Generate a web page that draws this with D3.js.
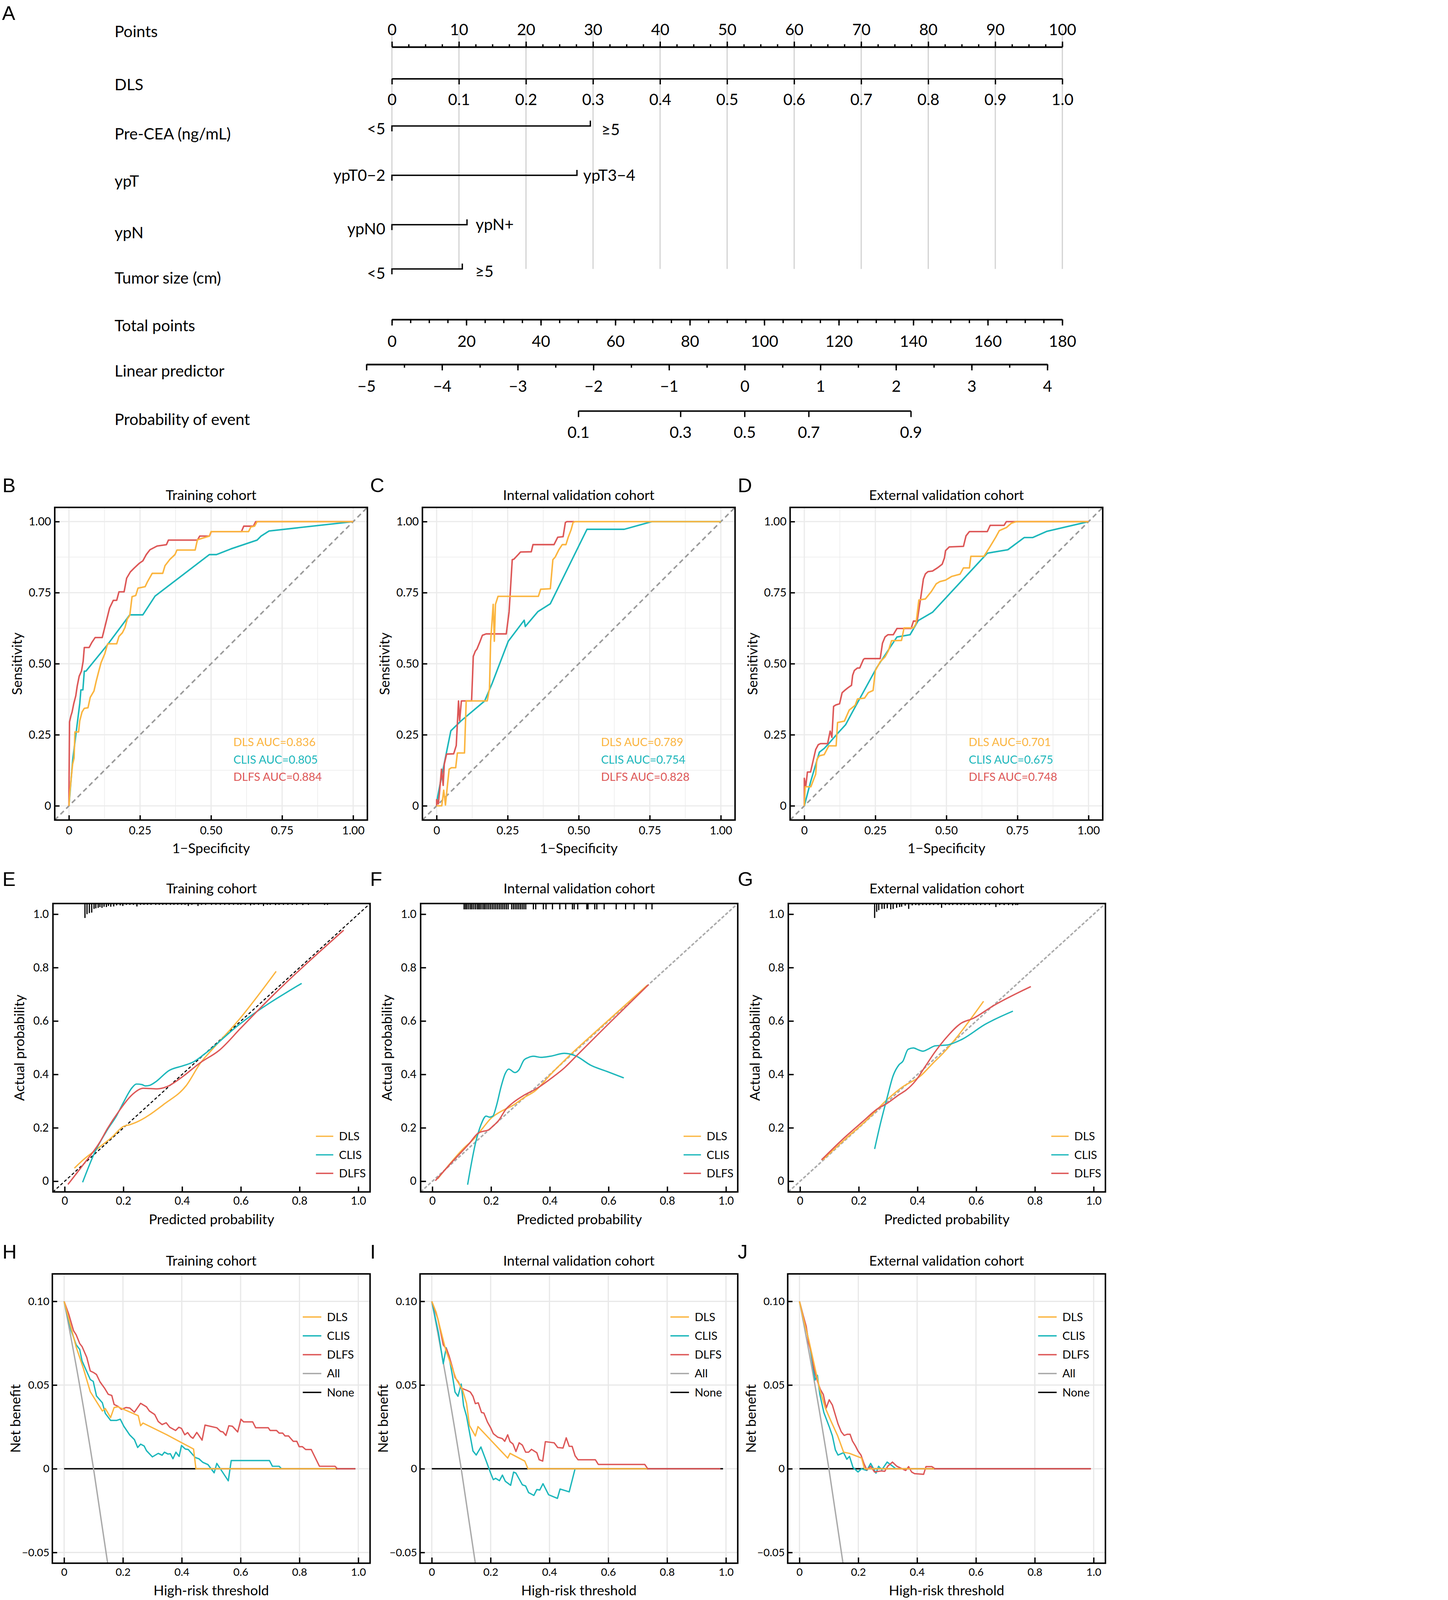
<!DOCTYPE html>
<html>
<head>
<meta charset="utf-8">
<script src="https://cdn.jsdelivr.net/npm/d3@7"></script>
<style>
  html, body { margin: 0; padding: 0; overflow: hidden; background: #fff; }
  #fig { display: block; position: absolute; left: 0; top: 0; width: 100vw; height: 100vh; }
  text { font-family: Lato, "Open Sans", sans-serif; fill: #000; }
</style>
</head>
<body>
<svg id="fig"></svg>
<script>
// ============================================
// DATA
// ============================================

// --- Nomogram (panel A) ---
const nomoRows = ["Points", "DLS", "Pre-CEA (ng/mL)", "ypT", "ypN", "Tumor size (cm)", "Total points", "Linear predictor", "Probability of event"];
const pointsMajor = [0, 10, 20, 30, 40, 50, 60, 70, 80, 90, 100];
const pointsMinor = d3.range(0, 100.1, 2.5);
const dlsTicks = [0, 0.1, 0.2, 0.3, 0.4, 0.5, 0.6, 0.7, 0.8, 0.9, 1.0];
const catLevels = [["<5", "≥5"], ["ypT0−2", "ypT3−4"], ["ypN0", "ypN+"], ["<5", "≥5"]];
const catPoints = [29.6, 27.6, 11.2, 10.5];
const totalMajor = [0, 20, 40, 60, 80, 100, 120, 140, 160, 180];
const totalMinor = d3.range(0, 180.1, 5);
const lpMajor = [-5, -4, -3, -2, -1, 0, 1, 2, 3, 4];
const lpMinor = d3.range(-5, 4.01, 0.5);
const probTicks = [0.1, 0.3, 0.5, 0.7, 0.9];

// --- ROC curves [1-specificity, sensitivity] ---
const cohorts = ["Training cohort", "Internal validation cohort", "External validation cohort"];
const models = ["DLS", "CLIS", "DLFS"];
const rocAUC = [["0.836", "0.805", "0.884"], ["0.789", "0.754", "0.828"], ["0.701", "0.675", "0.748"]];

const rocB_DLS = [[0,0],[0.003,0.046],[0.008,0.099],[0.013,0.147],[0.018,0.168],[0.021,0.26],[0.034,0.26],[0.038,0.299],[0.046,0.33],[0.054,0.343],[0.067,0.345],[0.075,0.382],[0.088,0.404],[0.096,0.439],[0.105,0.474],[0.113,0.504],[0.126,0.535],[0.136,0.57],[0.168,0.57],[0.176,0.596],[0.188,0.609],[0.197,0.627],[0.205,0.657],[0.214,0.67],[0.222,0.736],[0.235,0.74],[0.243,0.766],[0.268,0.771],[0.276,0.788],[0.293,0.818],[0.33,0.818],[0.338,0.845],[0.355,0.867],[0.373,0.884],[0.38,0.9],[0.444,0.9],[0.452,0.936],[0.494,0.949],[0.5,0.965],[0.632,0.965],[0.64,0.981],[0.653,0.984],[0.662,1],[1,1]];
const rocB_CLIS = [[0,0],[0.013,0.16],[0.025,0.256],[0.038,0.36],[0.042,0.408],[0.049,0.408],[0.054,0.474],[0.06,0.474],[0.138,0.57],[0.214,0.672],[0.26,0.672],[0.303,0.738],[0.494,0.884],[0.519,0.884],[0.57,0.904],[0.662,0.935],[0.676,0.949],[0.704,0.967],[1,1]];
const rocB_DLFS = [[0,0],[0,0.046],[0.002,0.295],[0.007,0.317],[0.011,0.33],[0.017,0.36],[0.024,0.387],[0.029,0.421],[0.036,0.456],[0.044,0.474],[0.05,0.509],[0.054,0.557],[0.071,0.557],[0.08,0.574],[0.092,0.592],[0.117,0.592],[0.131,0.648],[0.143,0.696],[0.156,0.723],[0.168,0.723],[0.176,0.753],[0.194,0.753],[0.203,0.801],[0.216,0.823],[0.229,0.836],[0.247,0.853],[0.26,0.862],[0.272,0.884],[0.285,0.901],[0.31,0.914],[0.343,0.919],[0.35,0.935],[0.452,0.935],[0.46,0.949],[0.494,0.949],[0.501,0.965],[0.607,0.965],[0.615,0.984],[0.649,0.984],[0.657,1],[1,1]];

const rocC_DLS = [[0,0],[0.018,0],[0.025,0.055],[0.031,0.003],[0.038,0.072],[0.044,0.129],[0.052,0.134],[0.067,0.134],[0.073,0.186],[0.098,0.186],[0.104,0.369],[0.178,0.369],[0.186,0.413],[0.19,0.579],[0.199,0.709],[0.203,0.579],[0.207,0.709],[0.216,0.737],[0.358,0.737],[0.366,0.762],[0.4,0.764],[0.409,0.866],[0.417,0.875],[0.43,0.901],[0.442,0.919],[0.455,0.919],[0.463,0.945],[0.473,0.971],[0.48,0.997],[0.487,1],[1,1]];
const rocC_CLIS = [[0,0],[0.003,0.029],[0.014,0.086],[0.05,0.264],[0.086,0.299],[0.169,0.369],[0.195,0.43],[0.252,0.579],[0.308,0.653],[0.312,0.631],[0.356,0.683],[0.4,0.711],[0.529,0.973],[0.66,0.973],[0.757,1],[1,1]];
const rocC_DLFS = [[0,0],[0,0.022],[0.006,0.007],[0.01,0.046],[0.017,0.129],[0.023,0.072],[0.027,0.147],[0.035,0.182],[0.06,0.183],[0.069,0.212],[0.077,0.369],[0.081,0.299],[0.087,0.369],[0.123,0.369],[0.129,0.526],[0.136,0.544],[0.142,0.552],[0.153,0.579],[0.161,0.6],[0.174,0.605],[0.245,0.605],[0.255,0.683],[0.266,0.866],[0.272,0.868],[0.287,0.884],[0.295,0.893],[0.333,0.894],[0.339,0.919],[0.413,0.919],[0.426,0.945],[0.445,0.947],[0.453,0.997],[0.458,1],[0.484,1]];

const rocD_DLS = [[0,0],[0.003,0.067],[0.023,0.067],[0.04,0.111],[0.044,0.163],[0.053,0.176],[0.07,0.18],[0.086,0.211],[0.112,0.211],[0.117,0.293],[0.141,0.298],[0.158,0.337],[0.179,0.354],[0.187,0.376],[0.212,0.379],[0.225,0.398],[0.242,0.406],[0.25,0.476],[0.267,0.507],[0.284,0.524],[0.296,0.546],[0.307,0.581],[0.342,0.582],[0.351,0.626],[0.384,0.626],[0.393,0.641],[0.403,0.724],[0.426,0.728],[0.447,0.754],[0.464,0.781],[0.477,0.789],[0.497,0.794],[0.518,0.807],[0.548,0.815],[0.56,0.837],[0.581,0.837],[0.586,0.878],[0.632,0.878],[0.653,0.911],[0.674,0.946],[0.686,0.968],[0.711,0.979],[0.728,0.994],[0.745,1],[1,1]];
const rocD_CLIS = [[0,0],[0.022,0.084],[0.053,0.189],[0.07,0.202],[0.086,0.219],[0.12,0.258],[0.145,0.285],[0.166,0.324],[0.254,0.485],[0.326,0.594],[0.372,0.602],[0.401,0.652],[0.451,0.681],[0.644,0.889],[0.716,0.901],[0.774,0.944],[0.804,0.944],[0.854,0.966],[1,1]];
const rocD_DLFS = [[0,0],[0,0.097],[0.005,0.067],[0.011,0.119],[0.022,0.119],[0.032,0.163],[0.04,0.198],[0.049,0.215],[0.057,0.219],[0.082,0.219],[0.091,0.263],[0.097,0.241],[0.103,0.35],[0.111,0.355],[0.124,0.359],[0.133,0.398],[0.142,0.406],[0.153,0.415],[0.166,0.424],[0.17,0.459],[0.176,0.476],[0.187,0.485],[0.195,0.485],[0.208,0.515],[0.212,0.518],[0.267,0.518],[0.275,0.572],[0.284,0.594],[0.294,0.602],[0.313,0.602],[0.326,0.624],[0.376,0.624],[0.384,0.65],[0.397,0.65],[0.409,0.728],[0.419,0.798],[0.426,0.816],[0.435,0.824],[0.451,0.826],[0.468,0.837],[0.485,0.85],[0.493,0.872],[0.497,0.898],[0.51,0.911],[0.56,0.913],[0.569,0.95],[0.581,0.965],[0.644,0.965],[0.654,0.987],[0.703,0.987],[0.711,1],[1,1]];

// --- Calibration curves [predicted, actual] ---
const calE_DLS = [[0.033,0.049],[0.063,0.08],[0.12,0.129],[0.161,0.165],[0.2,0.205],[0.222,0.212],[0.242,0.22],[0.34,0.29],[0.413,0.357],[0.462,0.442],[0.511,0.504],[0.592,0.603],[0.72,0.786]];
const calE_CLIS = [[0.061,-0.004],[0.104,0.112],[0.145,0.192],[0.177,0.246],[0.2,0.295],[0.23,0.351],[0.244,0.364],[0.263,0.362],[0.275,0.357],[0.289,0.359],[0.307,0.37],[0.356,0.415],[0.405,0.433],[0.437,0.446],[0.478,0.478],[0.592,0.585],[0.807,0.741]];
const calE_DLFS = [[0.011,-0.012],[0.063,0.062],[0.12,0.147],[0.145,0.196],[0.185,0.263],[0.238,0.332],[0.267,0.348],[0.315,0.346],[0.348,0.354],[0.397,0.388],[0.462,0.444],[0.527,0.491],[0.6,0.574],[0.689,0.674],[0.95,0.94]];
const calF_DLS = [[0.018,0.009],[0.051,0.054],[0.108,0.125],[0.14,0.157],[0.173,0.201],[0.197,0.233],[0.238,0.264],[0.271,0.282],[0.312,0.313],[0.352,0.34],[0.401,0.398],[0.475,0.479],[0.556,0.56],[0.732,0.734]];
const calF_CLIS = [[0.12,-0.013],[0.148,0.148],[0.165,0.21],[0.183,0.244],[0.195,0.24],[0.206,0.244],[0.218,0.282],[0.234,0.354],[0.248,0.403],[0.26,0.42],[0.281,0.407],[0.294,0.416],[0.312,0.454],[0.326,0.463],[0.344,0.468],[0.369,0.464],[0.401,0.468],[0.45,0.479],[0.487,0.47],[0.54,0.434],[0.597,0.41],[0.652,0.387]];
const calF_DLFS = [[0.01,0.002],[0.067,0.072],[0.124,0.139],[0.157,0.181],[0.173,0.187],[0.189,0.191],[0.206,0.206],[0.226,0.228],[0.25,0.269],[0.271,0.291],[0.312,0.322],[0.352,0.345],[0.409,0.389],[0.45,0.425],[0.491,0.47],[0.597,0.586],[0.736,0.736]];
const calG_DLS = [[0.077,0.08],[0.15,0.154],[0.223,0.225],[0.297,0.306],[0.346,0.351],[0.411,0.395],[0.451,0.44],[0.492,0.485],[0.533,0.538],[0.574,0.597],[0.625,0.674]];
const calG_CLIS = [[0.254,0.121],[0.272,0.208],[0.297,0.315],[0.317,0.395],[0.337,0.436],[0.35,0.449],[0.368,0.494],[0.386,0.499],[0.403,0.492],[0.419,0.487],[0.435,0.494],[0.46,0.507],[0.5,0.51],[0.549,0.53],[0.631,0.588],[0.725,0.637]];
const calG_DLFS = [[0.073,0.08],[0.142,0.154],[0.215,0.225],[0.262,0.27],[0.297,0.292],[0.337,0.324],[0.362,0.342],[0.394,0.377],[0.427,0.431],[0.46,0.485],[0.492,0.53],[0.549,0.592],[0.59,0.61],[0.655,0.655],[0.786,0.729]];

// spike histograms of predicted risk along the top [predicted, relative height]
const rugE = [[0.069,0.054],[0.076,0.04],[0.084,0.036],[0.092,0.034],[0.1,0.02],[0.106,0.018],[0.114,0.016],[0.12,0.013],[0.127,0.016],[0.134,0.012],[0.142,0.013],[0.149,0.009],[0.157,0.012],[0.167,0.011],[0.177,0.007],[0.189,0.007],[0.198,0.009],[0.21,0.005],[0.222,0.005],[0.234,0.005],[0.246,0.011],[0.258,0.005],[0.27,0.005],[0.282,0.005],[0.294,0.005],[0.31,0.005],[0.322,0.005],[0.334,0.005],[0.346,0.005],[0.36,0.005],[0.372,0.005],[0.385,0.005],[0.398,0.005],[0.41,0.005],[0.421,0.009],[0.433,0.005],[0.454,0.009],[0.466,0.005],[0.48,0.005],[0.5,0.005],[0.515,0.005],[0.53,0.005],[0.545,0.005],[0.56,0.005],[0.575,0.005],[0.59,0.005],[0.6,0.005],[0.615,0.005],[0.633,0.007],[0.645,0.005],[0.66,0.005],[0.677,0.009],[0.69,0.005],[0.7,0.005],[0.718,0.006],[0.73,0.005],[0.745,0.005],[0.76,0.005],[0.775,0.005],[0.79,0.005],[0.811,0.006],[0.83,0.005],[0.885,0.005],[0.895,0.005]];
const rugF = [[0.108,0.022],[0.113,0.022],[0.118,0.022],[0.124,0.022],[0.13,0.022],[0.135,0.022],[0.141,0.022],[0.147,0.022],[0.153,0.022],[0.158,0.022],[0.163,0.022],[0.169,0.022],[0.175,0.022],[0.18,0.022],[0.186,0.022],[0.192,0.022],[0.198,0.022],[0.204,0.022],[0.21,0.022],[0.216,0.022],[0.222,0.022],[0.228,0.022],[0.234,0.022],[0.24,0.022],[0.246,0.022],[0.252,0.022],[0.258,0.022],[0.27,0.022],[0.276,0.022],[0.282,0.022],[0.288,0.022],[0.294,0.022],[0.3,0.022],[0.306,0.022],[0.312,0.022],[0.318,0.022],[0.344,0.022],[0.352,0.022],[0.378,0.022],[0.387,0.022],[0.409,0.022],[0.434,0.022],[0.454,0.022],[0.477,0.022],[0.483,0.022],[0.495,0.022],[0.526,0.022],[0.53,0.022],[0.553,0.022],[0.56,0.022],[0.585,0.022],[0.626,0.022],[0.658,0.022],[0.687,0.022],[0.728,0.022],[0.748,0.022]];
const rugG = [[0.254,0.054],[0.261,0.031],[0.268,0.025],[0.279,0.02],[0.287,0.02],[0.297,0.018],[0.309,0.022],[0.317,0.02],[0.329,0.016],[0.339,0.013],[0.346,0.012],[0.358,0.008],[0.37,0.02],[0.382,0.007],[0.394,0.006],[0.405,0.007],[0.418,0.006],[0.43,0.006],[0.442,0.006],[0.455,0.006],[0.47,0.006],[0.482,0.016],[0.495,0.006],[0.508,0.006],[0.52,0.006],[0.535,0.006],[0.548,0.006],[0.56,0.006],[0.575,0.006],[0.59,0.006],[0.6,0.006],[0.615,0.006],[0.63,0.006],[0.645,0.006],[0.667,0.013],[0.68,0.006],[0.695,0.006],[0.71,0.006],[0.724,0.007],[0.735,0.006],[0.741,0.006]];

// --- Decision curves [threshold, net benefit] ---
const dcaAll = [[0,0.1],[0.05,0.0526],[0.1,0],[0.15,-0.0588]];
const dcaNone = [[0,0],[0.99,0]];
const dcaH_DLS = [[0,0.1],[0.016,0.0894],[0.041,0.0727],[0.065,0.0602],[0.089,0.046],[0.13,0.0345],[0.14,0.036],[0.158,0.0306],[0.17,0.0366],[0.183,0.037],[0.252,0.0317],[0.26,0.0257],[0.268,0.0273],[0.349,0.0203],[0.398,0.0157],[0.44,0.0118],[0.448,0],[0.925,0]];
const dcaH_CLIS = [[0,0.1],[0.024,0.0825],[0.041,0.0741],[0.053,0.0713],[0.061,0.0644],[0.089,0.0533],[0.099,0.0522],[0.11,0.0435],[0.13,0.0394],[0.14,0.0331],[0.158,0.0289],[0.179,0.0289],[0.191,0.0296],[0.203,0.0254],[0.223,0.0202],[0.239,0.0174],[0.25,0.0127],[0.26,0.0147],[0.272,0.0136],[0.28,0.0108],[0.3,0.0071],[0.32,0.0092],[0.333,0.0081],[0.341,0.0099],[0.353,0.0088],[0.361,0.009],[0.37,0.006],[0.38,0.0099],[0.391,0.0074],[0.399,0.0139],[0.412,0.0118],[0.422,0.0115],[0.446,0.0067],[0.458,0.006],[0.471,0.0039],[0.489,0.0025],[0.51,-0.0024],[0.519,0.0032],[0.558,-0.0072],[0.568,0.0049],[0.698,0.0049],[0.708,0.0015],[0.731,0.0015],[0.739,0]];
const dcaH_DLFS = [[0,0.1],[0.016,0.0922],[0.032,0.0825],[0.041,0.08],[0.053,0.0748],[0.061,0.073],[0.077,0.0665],[0.089,0.0584],[0.101,0.0574],[0.11,0.0563],[0.122,0.0519],[0.138,0.048],[0.15,0.0445],[0.162,0.0438],[0.17,0.0384],[0.183,0.0373],[0.195,0.0355],[0.211,0.0366],[0.223,0.0363],[0.239,0.0338],[0.26,0.0391],[0.28,0.037],[0.29,0.0345],[0.308,0.0324],[0.32,0.0282],[0.333,0.0264],[0.347,0.0275],[0.359,0.0248],[0.379,0.0229],[0.39,0.0248],[0.399,0.0241],[0.41,0.0203],[0.42,0.0216],[0.43,0.0192],[0.438,0.0182],[0.451,0.0217],[0.469,0.0171],[0.479,0.0261],[0.519,0.0245],[0.532,0.0223],[0.54,0.022],[0.55,0.0199],[0.56,0.0257],[0.572,0.0254],[0.59,0.022],[0.601,0.0296],[0.61,0.028],[0.641,0.028],[0.651,0.0245],[0.694,0.0245],[0.7,0.0229],[0.722,0.0229],[0.731,0.0213],[0.743,0.0213],[0.751,0.0196],[0.763,0.0196],[0.779,0.0164],[0.791,0.0164],[0.799,0.0132],[0.81,0.0132],[0.821,0.0115],[0.84,0.0115],[0.868,0.0015],[0.921,0.0015],[0.929,0],[0.99,0]];
const dcaI_DLS = [[0,0.1],[0.015,0.0934],[0.031,0.0823],[0.047,0.0712],[0.067,0.0614],[0.084,0.0531],[0.104,0.0475],[0.118,0.0391],[0.128,0.0259],[0.148,0.0196],[0.157,0.0252],[0.258,0.0064],[0.266,0.0092],[0.316,0.0046],[0.327,0],[0.732,0]];
const dcaI_CLIS = [[0,0.1],[0.023,0.0809],[0.039,0.0628],[0.049,0.0723],[0.059,0.0663],[0.07,0.0558],[0.079,0.0458],[0.089,0.0433],[0.1,0.0506],[0.108,0.0377],[0.118,0.0315],[0.132,0.0182],[0.14,0.0106],[0.151,0.0082],[0.167,0.013],[0.185,0.0046],[0.2,-0.0026],[0.209,-0.0065],[0.217,-0.0057],[0.23,-0.0071],[0.24,-0.0038],[0.25,-0.0075],[0.268,-0.0099],[0.278,-0.002],[0.286,-0.0026],[0.308,-0.0096],[0.319,-0.0103],[0.329,-0.0142],[0.347,-0.0159],[0.357,-0.0124],[0.367,-0.0127],[0.378,-0.0089],[0.397,-0.0155],[0.427,-0.0177],[0.436,-0.0121],[0.467,-0.0138],[0.487,0]];
const dcaI_DLFS = [[0,0.1],[0.011,0.0946],[0.021,0.0893],[0.031,0.0809],[0.039,0.074],[0.051,0.0712],[0.059,0.0673],[0.071,0.06],[0.079,0.0545],[0.09,0.052],[0.1,0.0482],[0.12,0.0468],[0.131,0.0458],[0.14,0.0433],[0.148,0.0389],[0.158,0.0394],[0.169,0.0336],[0.177,0.0333],[0.189,0.028],[0.2,0.0245],[0.209,0.021],[0.224,0.0189],[0.24,0.018],[0.248,0.0164],[0.258,0.0203],[0.266,0.0162],[0.276,0.0148],[0.286,0.0103],[0.297,0.0155],[0.308,0.0141],[0.319,0.0099],[0.329,0.0099],[0.339,0.0116],[0.357,0.0096],[0.365,0.0054],[0.377,0.0046],[0.386,0.0162],[0.416,0.0155],[0.428,0.0127],[0.446,0.0124],[0.457,0.0185],[0.467,0.0134],[0.477,0.0134],[0.487,0.0078],[0.497,0.0054],[0.556,0.0054],[0.566,0.0026],[0.724,0.0026],[0.734,0],[0.981,0]];
const dcaJ_DLS = [[0,0.1],[0.016,0.0878],[0.032,0.0766],[0.053,0.06],[0.069,0.0474],[0.088,0.0363],[0.105,0.0293],[0.13,0.0196],[0.15,0.0099],[0.17,0.0092],[0.211,0.0064],[0.221,0],[0.458,0]];
const dcaJ_CLIS = [[0,0.1],[0.02,0.0864],[0.036,0.0725],[0.053,0.053],[0.061,0.0558],[0.069,0.0446],[0.083,0.0335],[0.101,0.0252],[0.112,0.0196],[0.122,0.0113],[0.131,0.0082],[0.15,0.0096],[0.161,0.0057],[0.17,0.0074],[0.182,0.0008],[0.199,-0.0019],[0.211,0],[0.229,-0.001],[0.242,0.0032],[0.26,-0.0026],[0.269,0.0015],[0.28,-0.0006],[0.298,0.004],[0.328,0]];
const dcaJ_DLFS = [[0,0.1],[0.012,0.0919],[0.023,0.085],[0.031,0.0752],[0.041,0.069],[0.049,0.06],[0.061,0.0523],[0.071,0.0474],[0.081,0.0444],[0.091,0.0363],[0.101,0.0412],[0.112,0.038],[0.122,0.0321],[0.131,0.0268],[0.142,0.0221],[0.152,0.0199],[0.162,0.0206],[0.172,0.0206],[0.18,0.0166],[0.191,0.0134],[0.199,0.0106],[0.209,0.0082],[0.219,0.0032],[0.229,-0.0006],[0.242,0.0015],[0.255,-0.0019],[0.277,-0.0013],[0.29,-0.0015],[0.3,0.0015],[0.316,0.004],[0.331,0.0015],[0.361,-0.001],[0.371,0.0013],[0.381,-0.0019],[0.391,-0.0029],[0.422,-0.0033],[0.43,0.0013],[0.45,0.0013],[0.461,0],[0.991,0]];

// tick labels
const rocTicks = [0, 0.25, 0.5, 0.75, 1];
const rocMinor = [0.125, 0.375, 0.625, 0.875];
const rocTickLabels = ["0", "0.25", "0.50", "0.75", "1.00"];
const probAxisTicks = [0, 0.2, 0.4, 0.6, 0.8, 1.0];
const probAxisLabels = ["0", "0.2", "0.4", "0.6", "0.8", "1.0"];
const nbTicks = [-0.05, 0, 0.05, 0.10];
const nbTickLabels = ["−0.05", "0", "0.05", "0.10"];

// ============================================
// SETUP
// ============================================
const W = 3707, H = 5348;
const COL = { DLS: "#FBB53F", CLIS: "#1CB7BB", DLFS: "#DD5757", All: "#A9A9A9", None: "#000000" };
const colOffsets = [0, 1229, 2458];

// viewBox keeps the whole figure inside the window whatever its real size
const svg = d3.select("#fig").attr("viewBox", `0 0 ${W} ${H}`).attr("preserveAspectRatio", "xMinYMin meet");
svg.append("rect").attr("width", W).attr("height", H).attr("fill", "#fff");

function letter(txt, x, y) {
  svg.append("text").attr("x", x).attr("y", y).attr("font-size", 66)
    .style("font-family", "'Liberation Sans', Arial, sans-serif").text(txt);
}

// ============================================
// A. NOMOGRAM
// ============================================
const NFS = 53;
const nomo = svg.append("g");
const ptsX = d3.scaleLinear().domain([0, 100]).range([1310, 3551]);
const dlsX = d3.scaleLinear().domain([0, 1]).range([1310, 3551]);
const totX = d3.scaleLinear().domain([0, 180]).range([1310, 3551]);
const lpX = d3.scaleLinear().domain([-5, 4]).range([1225, 3501]);
const rowY = [106, 283, 448, 606, 778, 930, 1089, 1240, 1402];

letter("A", 7, 67);

// grey guide lines
nomo.selectAll("line.guide").data(pointsMajor).join("line")
  .attr("class", "guide")
  .attr("x1", d => ptsX(d)).attr("x2", d => ptsX(d))
  .attr("y1", 102).attr("y2", 899)
  .attr("stroke", "#d3d3d3").attr("stroke-width", 4);

nomo.selectAll("text.rowlab").data(nomoRows).join("text")
  .attr("class", "rowlab")
  .attr("x", 383).attr("y", (d, i) => rowY[i]).attr("dy", "0.35em")
  .attr("font-size", NFS).text(d => d);

function nAxis(axisFn, scale, y, values, size, fmt, pad) {
  const g = nomo.append("g").attr("transform", `translate(0,${y})`)
    .call(axisFn(scale).tickValues(values).tickSize(size).tickSizeOuter(0)
      .tickPadding(pad || 0).tickFormat(fmt || (() => "")));
  g.attr("font-size", NFS);
  g.selectAll(".tick line").attr("stroke-width", 4.5);
  g.select(".domain").attr("stroke-width", 5);
  return g;
}

// Points
nAxis(d3.axisTop, ptsX, 157, pointsMinor, 9);
nAxis(d3.axisTop, ptsX, 157, pointsMajor, 18, d3.format("d"), 22);
// DLS
nAxis(d3.axisBottom, dlsX, 263, dlsTicks, 19, d => d === 0 ? "0" : d.toFixed(1), 31);

// categorical predictors
const catLineY = [421, 586, 751, 899];
const catLeftY = [431, 586, 765, 914];
const catRightY = [433, 586, 751, 907];
const catRightGap = [37, 21, 29, 43];
catPoints.forEach((p, i) => {
  const y = catLineY[i], x0 = ptsX(0), x1 = ptsX(p);
  nomo.append("path")
    .attr("d", `M${x0},${y + 18}V${y}H${x1}V${y - 18}`)
    .attr("fill", "none").attr("stroke", "#000").attr("stroke-width", 4.5);
  nomo.append("text").attr("x", x0 - 22).attr("y", catLeftY[i]).attr("dy", "0.35em")
    .attr("text-anchor", "end").attr("font-size", NFS).text(catLevels[i][0]);
  nomo.append("text").attr("x", x1 + catRightGap[i]).attr("y", catRightY[i]).attr("dy", "0.35em")
    .attr("font-size", NFS).text(catLevels[i][1]);
});

// Total points
nAxis(d3.axisBottom, totX, 1068, totalMinor, 12);
nAxis(d3.axisBottom, totX, 1068, totalMajor, 20, d3.format("d"), 34);
// Linear predictor
nAxis(d3.axisBottom, lpX, 1218, lpMinor, 11);
nAxis(d3.axisBottom, lpX, 1218, lpMajor, 20, d3.format("d"), 34);
// Probability of event (logit of probability on the linear predictor scale)
const logit = p => Math.log(p / (1 - p));
const probG = nomo.append("g");
probG.append("line")
  .attr("x1", lpX(logit(probTicks[0]))).attr("x2", lpX(logit(probTicks[probTicks.length - 1])))
  .attr("y1", 1374).attr("y2", 1374).attr("stroke", "#000").attr("stroke-width", 5);
probG.selectAll("line.pt").data(probTicks).join("line").attr("class", "pt")
  .attr("x1", d => lpX(logit(d))).attr("x2", d => lpX(logit(d)))
  .attr("y1", 1374).attr("y2", 1394).attr("stroke", "#000").attr("stroke-width", 4.5);
probG.selectAll("text").data(probTicks).join("text")
  .attr("x", d => lpX(logit(d))).attr("y", 1445).attr("dy", "0.35em")
  .attr("text-anchor", "middle").attr("font-size", NFS).text(d => d.toFixed(1));

// ============================================
// GENERIC PANEL
// ============================================
let clipId = 0;
function makePanel(o) {
  const f = o.frame;
  const g = svg.append("g").attr("transform", `translate(${o.ox},0)`);
  const x = d3.scaleLinear().domain(o.xDom).range([f.l, f.r]);
  const y = d3.scaleLinear().domain(o.yDom).range([f.b, f.t]);
  const id = "clip" + (clipId++);
  g.append("clipPath").attr("id", id).append("rect")
    .attr("x", f.l).attr("y", f.t).attr("width", f.r - f.l).attr("height", f.b - f.t);
  const grid = g.append("g");
  const plot = g.append("g").attr("clip-path", `url(#${id})`);
  return { g, grid, plot, x, y, f };
}

function gridLines(p, xs, ys, w, color) {
  p.grid.append("g").selectAll("line").data(xs).join("line")
    .attr("x1", d => p.x(d)).attr("x2", d => p.x(d)).attr("y1", p.f.t).attr("y2", p.f.b)
    .attr("stroke", color).attr("stroke-width", w);
  p.grid.append("g").selectAll("line").data(ys).join("line")
    .attr("y1", d => p.y(d)).attr("y2", d => p.y(d)).attr("x1", p.f.l).attr("x2", p.f.r)
    .attr("stroke", color).attr("stroke-width", w);
}

function finishPanel(p, o) {
  const f = p.f;
  const gx = p.g.append("g").attr("transform", `translate(0,${f.b})`)
    .call(d3.axisBottom(p.x).tickValues(o.xTicks).tickFormat((d, i) => o.xLabels[i])
      .tickSize(-o.tickLen).tickSizeOuter(0).tickPadding(o.padX));
  const gy = p.g.append("g").attr("transform", `translate(${f.l},0)`)
    .call(d3.axisLeft(p.y).tickValues(o.yTicks).tickFormat((d, i) => o.yLabels[i])
      .tickSize(-o.tickLenY).tickSizeOuter(0).tickPadding(o.padY));
  [gx, gy].forEach(a => {
    a.attr("font-size", o.tickFS);
    a.select(".domain").remove();
    a.selectAll(".tick line").attr("stroke-width", 4.5);
  });
  p.g.append("rect").attr("x", f.l).attr("y", f.t).attr("width", f.r - f.l).attr("height", f.b - f.t)
    .attr("fill", "none").attr("stroke", "#000").attr("stroke-width", 5);
  const cx = (f.l + f.r) / 2, cy = (f.t + f.b) / 2;
  p.g.append("text").attr("x", cx).attr("y", o.titleY).attr("dy", "0.35em")
    .attr("text-anchor", "middle").attr("font-size", 46).text(o.title);
  p.g.append("text").attr("x", cx).attr("y", o.xTitleY).attr("dy", "0.35em")
    .attr("text-anchor", "middle").attr("font-size", 46).text(o.xTitle);
  p.g.append("text").attr("transform", `translate(${o.yTitleX},${cy}) rotate(-90)`).attr("dy", "0.35em")
    .attr("text-anchor", "middle").attr("font-size", 46).text(o.yTitle);
}

function drawLine(p, data, color, width, curve, dash) {
  const line = d3.line().x(d => p.x(d[0])).y(d => p.y(d[1])).curve(curve || d3.curveLinear);
  const path = p.plot.append("path").datum(data).attr("d", line)
    .attr("fill", "none").attr("stroke", color).attr("stroke-width", width)
    .attr("stroke-linejoin", "round").attr("stroke-linecap", "butt");
  if (dash) path.attr("stroke-dasharray", dash);
  return path;
}

// ============================================
// B-D. ROC CURVES
// ============================================
const rocData = [
  { DLS: rocB_DLS, CLIS: rocB_CLIS, DLFS: rocB_DLFS },
  { DLS: rocC_DLS, CLIS: rocC_CLIS, DLFS: rocC_DLFS },
  { DLS: rocD_DLS, CLIS: rocD_CLIS, DLFS: rocD_DLFS }
];
["B", "C", "D"].forEach((L, c) => {
  const ox = colOffsets[c];
  letter(L, 8 + ox, 1645);
  const p = makePanel({ ox, frame: { l: 183, r: 1228, t: 1696, b: 2741 }, xDom: [-0.05, 1.05], yDom: [-0.05, 1.05] });
  gridLines(p, rocMinor, rocMinor, 2, "#EBEBEB");
  gridLines(p, rocTicks, rocTicks, 4, "#EBEBEB");
  drawLine(p, [[-0.05, -0.05], [1.05, 1.05]], "#999999", 5, null, "16,11");
  ["CLIS", "DLFS", "DLS"].forEach(m => drawLine(p, rocData[c][m], COL[m], 5));
  models.forEach((m, i) => {
    p.g.append("text").attr("x", 780).attr("y", 2481 + i * 58).attr("dy", "0.35em")
      .attr("font-size", 38).style("fill", COL[m])
      .text(`${m} AUC=${rocAUC[c][i]}`);
  });
  finishPanel(p, {
    xTicks: rocTicks, xLabels: rocTickLabels, yTicks: rocTicks, yLabels: rocTickLabels,
    tickLen: 16, tickLenY: 16, padX: 21, padY: 12, tickFS: 38,
    title: cohorts[c], titleY: 1655, xTitle: "1−Specificity", xTitleY: 2836,
    yTitle: "Sensitivity", yTitleX: 57
  });
});

// ============================================
// E-G. CALIBRATION CURVES
// ============================================
const calData = [
  { DLS: calE_DLS, CLIS: calE_CLIS, DLFS: calE_DLFS, rug: rugE, ideal: "#000000" },
  { DLS: calF_DLS, CLIS: calF_CLIS, DLFS: calF_DLFS, rug: rugF, ideal: "#AAAAAA" },
  { DLS: calG_DLS, CLIS: calG_CLIS, DLFS: calG_DLFS, rug: rugG, ideal: "#AAAAAA" }
];
["E", "F", "G"].forEach((L, c) => {
  const ox = colOffsets[c];
  letter(L, 8 + ox, 2961);
  const p = makePanel({ ox, frame: { l: 177, r: 1237, t: 3020, b: 3984 }, xDom: [-0.04, 1.04], yDom: [-0.04, 1.04] });
  const cd = calData[c];
  if (c === 0) drawLine(p, [[-0.04, -0.04], [1.04, 1.04]], cd.ideal, 3.5, null, "10,7");
  else drawLine(p, [[-0.04, -0.04], [1.04, 1.04]], cd.ideal, 5, null, "11,6");
  models.forEach(m => drawLine(p, cd[m], COL[m], 4.5, d3.curveMonotoneX));
  // spike histogram hanging from the top
  p.plot.selectAll("line.rug").data(cd.rug).join("line").attr("class", "rug")
    .attr("x1", d => p.x(d[0])).attr("x2", d => p.x(d[0]))
    .attr("y1", p.y(1.04)).attr("y2", d => p.y(1.04 - d[1]))
    .attr("stroke", "#000").attr("stroke-width", 4);
  // legend
  const r = p.f.r;
  models.forEach((m, i) => {
    const ly = 3798 + i * 62;
    p.g.append("line").attr("x1", r - 181).attr("x2", r - 123).attr("y1", ly).attr("y2", ly)
      .attr("stroke", COL[m]).attr("stroke-width", 4.5);
    p.g.append("text").attr("x", r - 104).attr("y", ly).attr("dy", "0.35em").attr("font-size", 38).text(m);
  });
  finishPanel(p, {
    xTicks: probAxisTicks, xLabels: probAxisLabels, yTicks: probAxisTicks, yLabels: probAxisLabels,
    tickLen: 18, tickLenY: 18, padX: 17, padY: 14, tickFS: 37,
    title: cohorts[c], titleY: 2970, xTitle: "Predicted probability", xTitleY: 4076,
    yTitle: "Actual probability", yTitleX: 65
  });
});

// ============================================
// H-J. DECISION CURVES
// ============================================
const dcaData = [
  { DLS: dcaH_DLS, CLIS: dcaH_CLIS, DLFS: dcaH_DLFS },
  { DLS: dcaI_DLS, CLIS: dcaI_CLIS, DLFS: dcaI_DLFS },
  { DLS: dcaJ_DLS, CLIS: dcaJ_CLIS, DLFS: dcaJ_DLFS }
];
const dcaLegend = ["DLS", "CLIS", "DLFS", "All", "None"];
["H", "I", "J"].forEach((L, c) => {
  const ox = colOffsets[c];
  letter(L, 8 + ox, 4207);
  const p = makePanel({ ox, frame: { l: 175, r: 1237, t: 4258, b: 5225 }, xDom: [-0.04, 1.04], yDom: [-0.0564, 0.1164] });
  gridLines(p, probAxisTicks, nbTicks, 4, "#E8E8E8");
  drawLine(p, dcaNone, COL.None, 4.5);
  drawLine(p, dcaAll, COL.All, 4.5, d3.curveMonotoneX);
  ["CLIS", "DLFS", "DLS"].forEach(m => drawLine(p, dcaData[c][m], COL[m], 4.5));
  const r = p.f.r;
  dcaLegend.forEach((m, i) => {
    const ly = 4402 + i * 63;
    p.g.append("line").attr("x1", r - 225).attr("x2", r - 163).attr("y1", ly).attr("y2", ly)
      .attr("stroke", COL[m]).attr("stroke-width", 4.5);
    p.g.append("text").attr("x", r - 144).attr("y", ly).attr("dy", "0.35em").attr("font-size", 38).text(m);
  });
  finishPanel(p, {
    xTicks: probAxisTicks, xLabels: probAxisLabels, yTicks: nbTicks, yLabels: nbTickLabels,
    tickLen: 19, tickLenY: 16, padX: 17, padY: 10, tickFS: 36,
    title: cohorts[c], titleY: 4214, xTitle: "High-risk threshold", xTitleY: 5316,
    yTitle: "Net benefit", yTitleX: 52
  });
});
</script>
</body>
</html>
